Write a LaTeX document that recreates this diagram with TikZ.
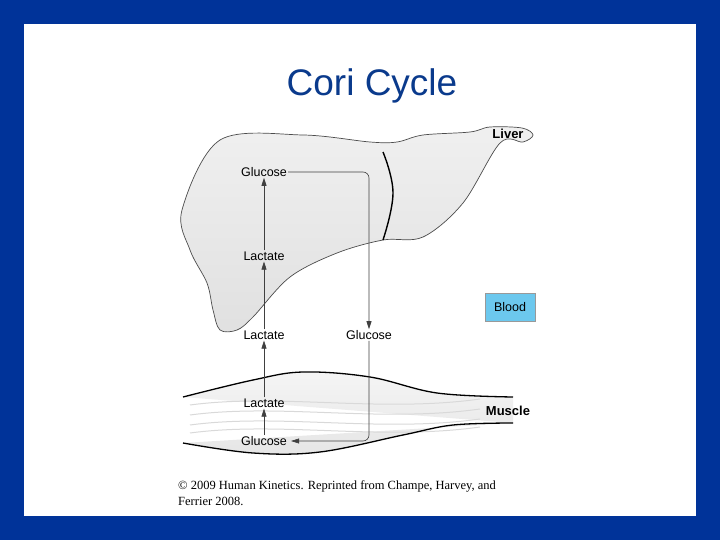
\documentclass[tikz,border=0pt]{standalone}
\usepackage{fontspec}
\setmainfont{Liberation Serif}
\setsansfont{Liberation Sans}
\usetikzlibrary{arrows.meta}
\definecolor{frame}{HTML}{003399}
\definecolor{titleblue}{HTML}{0A3A8C}
\definecolor{bloodc}{HTML}{6CC8EE}
\tikzset{
  lbl/.style={font=\sffamily\fontsize{12.5pt}{14pt}\selectfont, inner sep=1pt},
  bold/.style={font=\sffamily\bfseries\fontsize{13pt}{14pt}\selectfont},
  flow/.style={draw=black!75, line width=0.6pt, -{Triangle[length=8pt,width=5pt]}},
  fiber/.style={draw=black!15, line width=1pt}
}
\begin{document}
\begin{tikzpicture}[x=1pt,y=-1pt]
\useasboundingbox (0,0) rectangle (720,540);
\fill[frame] (0,0) rectangle (720,540);
\fill[white] (24,24) rectangle (696,516);
\node[font=\sffamily\fontsize{37pt}{40pt}\selectfont, text=titleblue] (title) at (372,86) {Cori Cycle};
% liver
\path[draw=black!70, line width=0.7pt, top color=black!6, bottom color=black!12]
 plot[smooth cycle, tension=0.55] coordinates {(182,210) (220,140) (303,135) (370,142) (397,142) (423,135) (470,132) (490,127) (522,128) (533,135) (523,142) (500,143) (463,203) (423,237) (383,240) (337,253) (290,277) (253,317) (237,330) (220,330) (213,310) (207,283) (190,250)};
\draw[line width=1.4pt] plot[smooth, tension=0.7] coordinates {(383,152) (393,193) (383,240)};
% muscle
\path[top color=black!4, bottom color=black!10]
 plot[smooth, tension=0.6] coordinates {(183,397) (253,380) (303,372) (370,377) (437,393) (513,397)} -- (513,423)
 plot[smooth, tension=0.6] coordinates {(513,423) (453,425) (403,435) (320,452) (253,453) (183,443)} -- cycle;
\foreach \y in {405,415,425,433} \draw[fiber] (190,\y) .. controls (280,\y-12) and (380,\y+8) .. (480,\y-6);
\draw[line width=1.3pt] plot[smooth, tension=0.6] coordinates {(183,397) (253,380) (303,372) (370,377) (437,393) (513,397)};
\draw[line width=1.3pt] plot[smooth, tension=0.6] coordinates {(513,423) (453,425) (403,435) (320,452) (253,453) (183,443)};
% labels
\node[lbl] (g1) at (264,172) {Glucose};
\node[lbl] (l1) at (264,256) {Lactate};
\node[lbl] (l2) at (264,335) {Lactate};
\node[lbl] (g2) at (369,335) {Glucose};
\node[lbl] (l3) at (264,403) {Lactate};
\node[lbl] (g3) at (264,441) {Glucose};
\node[bold] (liver) at (508,134) {Liver};
\node[bold] (muscle) at (508,411) {Muscle};
\node[lbl, draw=black!40, fill=bloodc, minimum width=50pt, minimum height=28pt] (blood) at (510,307) {Blood};
% arrows
\draw[flow] (l1.north) -- (l1.north |- g1.south);
\draw[flow] (l2.north) -- (l1.south);
\draw[flow] (l3.north) -- (l2.south);
\draw[flow] (g3.north) -- (l3.south);
\draw[flow, rounded corners=6pt] (g1.east) -- (g1.east -| g2.north) -- (g2.north);
\draw[flow, rounded corners=6pt] (g2.south) -- (g2.south |- g3.east) -- ([xshift=3pt]g3.east);
% credit
\node[anchor=north west, align=left, font=\fontsize{12.5pt}{16pt}\selectfont, inner sep=0pt] (credit) at (178,480) {© 2009 Human Kinetics. Reprinted from Champe, Harvey, and\\Ferrier 2008.};
\end{tikzpicture}
\end{document}
